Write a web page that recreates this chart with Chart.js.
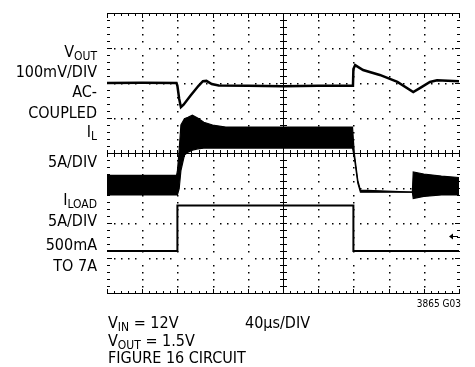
<!DOCTYPE html>
<html>
<head>
<meta charset="utf-8">
<script src="https://cdn.jsdelivr.net/npm/chart.js@4.4.1/dist/chart.umd.min.js"></script>
<style>
  body { margin: 0; background: #fff; }
  #wrap {
    position: relative; width: 475px; height: 367px; overflow: hidden;
    font-family: "DejaVu Sans Condensed", "DejaVu Sans", sans-serif;
    font-stretch: condensed; color: #000;
  }
  #scope { position: absolute; left: 0; top: 0; }
  .lbl { position: absolute; font-size: 16px; line-height: 16px; white-space: nowrap; }
  .left { right: 378px; text-align: right; }
  .lbl sub { font-size: 12px; vertical-align: baseline; position: relative; top: 3px; }
  .code { font-size: 10px; line-height: 10px; right: 14px; }
</style>
</head>
<body>
<div id="wrap">
  <canvas id="scope" width="475" height="367"></canvas>

  <div class="lbl left" style="top:44px">V<sub>OUT</sub></div>
  <div class="lbl left" style="top:64px">100mV/DIV</div>
  <div class="lbl left" style="top:84px">AC-</div>
  <div class="lbl left" style="top:105px">COUPLED</div>
  <div class="lbl left" style="top:124px">I<sub>L</sub></div>
  <div class="lbl left" style="top:154px">5A/DIV</div>
  <div class="lbl left" style="top:192px">I<sub>LOAD</sub></div>
  <div class="lbl left" style="top:213px">5A/DIV</div>
  <div class="lbl left" style="top:237px">500mA</div>
  <div class="lbl left" style="top:258px">TO 7A</div>

  <div class="lbl code" style="top:299px">3865 G03</div>
  <div class="lbl" style="left:108px; top:315px">V<sub>IN</sub> = 12V</div>
  <div class="lbl" style="left:245px; top:315px">40μs/DIV</div>
  <div class="lbl" style="left:108px; top:333px">V<sub>OUT</sub> = 1.5V</div>
  <div class="lbl" style="left:108px; top:350px">FIGURE 16 CIRCUIT</div>
</div>

<script>
// time in us (40us/DIV, 10 divisions)
const timeSpan = 400;

// load current step, amps
const loadTime = [0, 80, 80, 280, 280, 400];
const loadAmps = [0.5, 0.5, 7, 7, 0.5, 0.5];

// output voltage deviation, mV (AC-coupled)
const voutTime = [0, 40, 79, 80, 82, 84, 87, 95, 104, 109, 113, 119, 127, 160, 200, 240, 279.5,
                  280, 282, 291, 310, 330, 348, 356, 367, 375, 400];
const voutMv   = [0, 1, 0, -8, -45, -69, -62, -36, -8, 5, 6, -3, -7, -8, -9, -8, -8,
                  40, 51, 37, 23, 3, -26, -14, 3, 8, 5];

// inductor current ripple envelope, amps
const ilTime  = [0, 79, 80, 82, 84, 88, 92, 97, 103, 110, 120, 135, 160, 200, 240, 279,
                 281, 285, 288, 347, 348, 360, 380, 400];
const ilUpper = [2.4, 2.4, 3.0, 6.0, 9.6, 10.5, 10.7, 11.0, 10.6, 10.0, 9.6, 9.3, 9.3, 9.3, 9.3, 9.3,
                 5.6, 1.7, 0.3, 0, 2.9, 2.6, 2.3, 2.1];
const ilLower = [-0.4, -0.4, -0.4, 0.5, 3.1, 5.3, 5.7, 6.0, 6.2, 6.3, 6.3, 6.3, 6.3, 6.3, 6.3, 6.3,
                 5.0, 1.3, 0, 0, -0.9, -0.6, -0.4, -0.4];

const pts = (xs, ys) => xs.map((t, i) => ({ x: t, y: ys[i] }));

// scope graticule: dotted grid, ticked edges, ticked center cross
const graticule = {
    id: 'graticule',
    beforeDatasetsDraw(chart) {
        const { ctx, chartArea: a, scales: { x, y } } = chart;
        const cx = Math.round(x.getPixelForValue(timeSpan / 2));
        const cy = Math.round(y.getPixelForValue(0));
        ctx.save();
        ctx.fillStyle = '#000';

        ctx.fillRect(a.left, a.top, a.right - a.left + 1, 1);
        ctx.fillRect(a.left, a.bottom, a.right - a.left + 1, 1);
        ctx.fillRect(a.left, cy, a.right - a.left + 1, 1);
        ctx.fillRect(cx, a.top, 1, a.bottom - a.top);

        for (let t = 0; t <= timeSpan; t += 8) {
            const xp = Math.round(x.getPixelForValue(t));
            const major = t % 40 === 0;
            const len = major ? 5 : 3;
            ctx.fillRect(xp, a.top, 1, len);
            ctx.fillRect(xp, a.bottom - len + 1, 1, len);
            ctx.fillRect(xp, cy - 3, 1, 7);
            if (!major) {
                for (let d = -3; d <= 3; d++) {
                    if (d === 0) continue;
                    ctx.fillRect(xp, Math.round(y.getPixelForValue(d)), 1.5, 1.5);
                }
            }
        }
        for (let j = -20; j <= 20; j++) {
            const yp = Math.round(y.getPixelForValue(j / 5));
            const major = j % 5 === 0;
            const len = major ? 5 : 3;
            ctx.fillRect(a.left, yp, len, 1);
            ctx.fillRect(a.right - len + 1, yp, len, 1);
            ctx.fillRect(cx - 3, yp, 7, 1);
            if (!major) {
                for (let t = 40; t < timeSpan; t += 40) {
                    if (t === timeSpan / 2) continue;
                    ctx.fillRect(Math.round(x.getPixelForValue(t)), yp, 1.5, 1.5);
                }
            }
        }

        // ground marker arrow
        const gy = Math.round(y.getPixelForValue(-2.37));
        ctx.fillRect(a.right - 9, gy, 8, 1);
        ctx.beginPath();
        ctx.moveTo(a.right - 10, gy + 0.5);
        ctx.lineTo(a.right - 6, gy - 2.5);
        ctx.lineTo(a.right - 6, gy + 3.5);
        ctx.closePath();
        ctx.fill();
        ctx.restore();
    }
};

new Chart(document.getElementById('scope'), {
    type: 'line',
    data: {
        datasets: [
            {
                label: 'VOUT',
                data: pts(voutTime, voutMv),
                yAxisID: 'yV',
                borderColor: '#000',
                borderWidth: 2.5,
            },
            {
                label: 'IL low',
                data: pts(ilTime, ilLower),
                yAxisID: 'yIL',
                borderColor: '#000',
                borderWidth: 1.2,
            },
            {
                label: 'IL high',
                data: pts(ilTime, ilUpper),
                yAxisID: 'yIL',
                borderColor: '#000',
                borderWidth: 1.2,
                backgroundColor: '#000',
                fill: '-1',
            },
            {
                label: 'ILOAD',
                data: pts(loadTime, loadAmps),
                yAxisID: 'yLoad',
                borderColor: '#000',
                borderWidth: 2,
            },
        ],
    },
    options: {
        responsive: false,
        animation: false,
        devicePixelRatio: 1,
        layout: { padding: { left: 107, right: 16, top: 13, bottom: 74 } },
        plugins: { legend: { display: false }, tooltip: { enabled: false } },
        elements: { point: { radius: 0 }, line: { tension: 0 } },
        scales: {
            x: { type: 'linear', min: 0, max: timeSpan, display: false },
            y: { type: 'linear', min: -4, max: 4, display: false },
            yV: { type: 'linear', min: -600, max: 200, display: false },
            yIL: { type: 'linear', min: -14.4, max: 25.6, display: false },
            yLoad: { type: 'linear', min: -5.5, max: 34.5, display: false },
        },
    },
    plugins: [graticule],
});
</script>
</body>
</html>
